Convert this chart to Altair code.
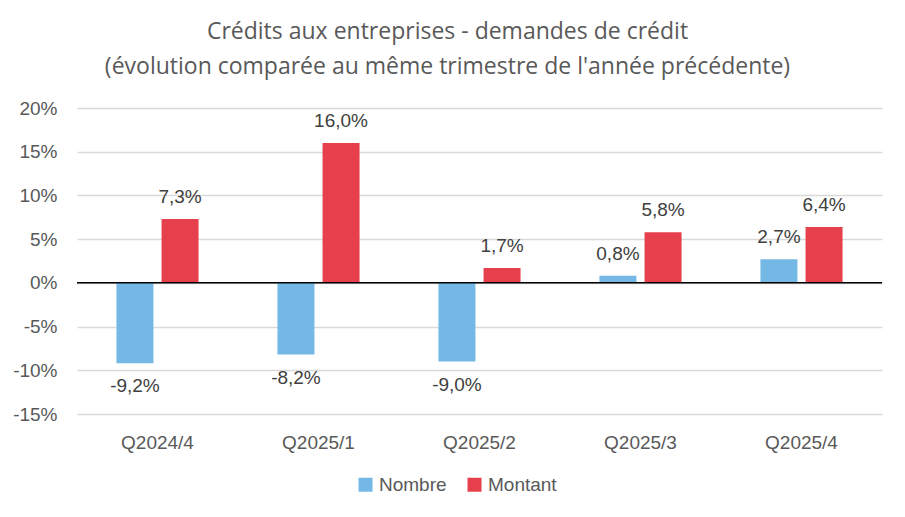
import altair as alt
import pandas as pd

quarters = ["Q2024/4", "Q2025/1", "Q2025/2", "Q2025/3", "Q2025/4"]
nombre = [-9.2, -8.2, -9.0, 0.8, 2.7]
montant = [7.3, 16.0, 1.7, 5.8, 6.4]
series = ["Nombre", "Montant"]
colors = ["#74b9e6", "#e5404b"]
y_ticks = [-15, -10, -5, 0, 5, 10, 15, 20]

rows = []
for q, n, m in zip(quarters, nombre, montant):
    for s, v in zip(series, [n, m]):
        rows.append({"q": q, "s": s, "v": v,
                     "lab": f"{v:.1f}".replace(".", ",") + "%"})
df = pd.DataFrame(rows)

FONT = "Liberation Sans"
FS = 19

x = alt.X("q:N", sort=quarters, title=None,
          scale=alt.Scale(paddingInner=0.49, paddingOuter=0.245),
          axis=alt.Axis(labelAngle=0, labelFontSize=FS, labelColor="#595959",
                        labelFont=FONT, ticks=False, domain=False,
                        labelPadding=19, grid=False))
xo = alt.XOffset("s:N", sort=series,
                 scale=alt.Scale(paddingInner=0.18, paddingOuter=0))
y = alt.Y("v:Q", title=None,
          scale=alt.Scale(domain=[-15, 20], nice=False, zero=False),
          axis=alt.Axis(values=y_ticks, labelExpr="datum.value + '%'",
                        labelFontSize=FS, labelColor="#595959", labelFont=FONT,
                        ticks=False, domain=False, labelPadding=20,
                        gridColor="#d9d9d9", gridWidth=1.5))

base = alt.Chart(df)

bars = base.mark_bar().encode(
    x=x, xOffset=xo, y=y,
    color=alt.Color("s:N", sort=series,
                    scale=alt.Scale(domain=series, range=colors),
                    legend=alt.Legend(title=None, orient="none", direction="horizontal",
                                      legendX=279, legendY=367,
                                      symbolType="square", symbolSize=196,
                                      symbolStrokeWidth=0,
                                      labelFontSize=FS, labelColor="#595959",
                                      labelFont=FONT, columnPadding=18,
                                      labelOffset=4)),
)

pos_labels = base.transform_filter("datum.v >= 0").mark_text(
    baseline="bottom", dy=-12, fontSize=FS, font=FONT, color="#404040"
).encode(x=x, xOffset=xo, y=y, text="lab:N")

neg_labels = base.transform_filter("datum.v < 0").mark_text(
    baseline="top", dy=14, fontSize=FS, font=FONT, color="#404040"
).encode(x=x, xOffset=xo, y=y, text="lab:N")

zero = alt.Chart(pd.DataFrame({"v": [0]})).mark_rule(
    color="#000000", strokeWidth=1.5
).encode(y=alt.Y("v:Q"))

chart = alt.layer(bars, zero, pos_labels, neg_labels).properties(
    width=805, height=306,
    padding={"left": 69, "top": 100, "right": 15, "bottom": 95},
    autosize=alt.AutoSizeParams(type="none"),
    title=alt.Title(
        ["Crédits aux entreprises - demandes de crédit",
         "(évolution comparée au même trimestre de l'année précédente)"],
        fontSize=23, font="Open Sans", fontWeight="normal", color="#595959",
        anchor="middle", frame="group", dx=-32, offset=20, lineHeight=35,
    ),
).configure_view(stroke=None)

chart.save("out.html", embed_options={"renderer": "svg", "actions": False})
